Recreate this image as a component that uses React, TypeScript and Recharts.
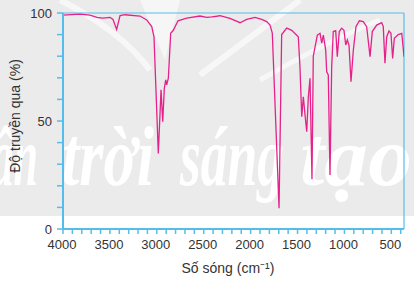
import React from "react";
import { LineChart, Line, XAxis, YAxis, ReferenceLine } from "recharts";

// wavenumber (cm-1) left to right
const wavenumber = [
  4000, 3819, 3712, 3638, 3574, 3499, 3467, 3428, 3392, 3339, 3179, 3108, 3054, 3030,
  2984, 2955, 2937, 2920, 2905, 2895, 2877, 2852, 2824, 2774, 2681, 2540, 2468, 2412,
  2362, 2326, 2220, 2113, 2042, 1953, 1882, 1829, 1793, 1769, 1697, 1669, 1615, 1562,
  1492, 1474, 1455, 1438, 1420, 1402, 1385, 1367, 1346, 1332, 1289, 1260, 1242, 1225,
  1200, 1189, 1172, 1154, 1136, 1119, 1093, 1076, 1055, 1029, 1005, 986, 969, 951, 930,
  905, 877, 841, 799, 763, 727, 703, 656, 603, 586, 568, 549, 525, 504, 486, 468, 426,
  389, 365,
];
// transmittance (%)
const transmittance = [
  99, 99.5, 99, 98, 97.6, 98, 97, 92.4, 98.8, 99.2, 98.6, 96.8, 93.7, 89,
  35, 64.4, 49.7, 65, 69, 66.7, 69.8, 90.6, 92, 96.4, 97.6, 98.6, 98, 98.2,
  98.5, 98.8, 97.5, 95.5, 97, 98, 97, 96, 94.4, 90.7, 9.6, 90, 93, 92,
  89, 75, 52, 61.2, 52.8, 45, 61, 69.8, 23, 80, 89.8, 90.6, 86, 89.8,
  82.9, 72.8, 71.3, 25, 75, 91.4, 91.8, 79.8, 91.4, 93, 92, 85.2, 87.5, 85, 68.2,
  82.9, 93.7, 96.4, 96, 93.7, 79.8, 91.4, 94.4, 95.5, 93.7, 76.7, 89, 91.7, 90.6, 79, 88.3, 90,
  90.6, 79.8,
];

const xTicks = [
  4000, 3900, 3800, 3700, 3600, 3500, 3400, 3300, 3200, 3100, 3000, 2900, 2800, 2700,
  2600, 2500, 2400, 2300, 2200, 2100, 2000, 1900, 1800, 1700, 1600, 1500, 1400, 1300,
  1200, 1100, 1000, 900, 800, 700, 600, 500, 400,
];
const xLabels = [4000, 3500, 3000, 2500, 2000, 1500, 1000, 500];
const yTicks = [0, 10, 20, 30, 40, 50, 60, 70, 80, 90, 100];
const yLabels = [0, 50, 100];

// watermark words behind the plot
const watermark = ["Chân", "trời", "sáng", "tạo"];

const data = wavenumber.map((w, i) => ({ w, t: transmittance[i] }));

const BLUE = "#55bde9";
const TEXT = "#333333";
const FONT = "Liberation Sans, Arial, sans-serif";

function XTick({ x, y, payload }: any) {
  const v = payload.value;
  return (
    <g>
      <line x1={x} x2={x} y1={y} y2={y + 5} stroke={BLUE} strokeWidth={1.5} />
      {xLabels.includes(v) && (
        <text x={x - 1} y={y + 20} textAnchor="middle" fontSize={13} fill={TEXT} fontFamily={FONT}>
          {v}
        </text>
      )}
    </g>
  );
}

function YTick({ x, y, payload }: any) {
  const v = payload.value;
  return (
    <g>
      <line x1={x - 6} x2={x} y1={y} y2={y} stroke={BLUE} strokeWidth={1.5} />
      {yLabels.includes(v) && (
        <text x={x - 11} y={y + 5} textAnchor="end" fontSize={13} fill={TEXT} fontFamily={FONT}>
          {v}
        </text>
      )}
    </g>
  );
}

export default function App() {
  const wordX = [-62, 62, 180, 300];
  const wordW = [100, 92, 104, 112];
  return (
    <div style={{ position: "absolute", left: 0, top: 0, width: 414, height: 282, background: "#fff" }}>
      <svg width={414} height={282} style={{ position: "absolute", left: 0, top: 0 }}>
        <rect x={0} y={0} width={414} height={216} fill="#ebebeb" />
        <path d="M140 0 L165 60 L180 0 Z" fill="#f6f6f6" />
        <path d="M60 0 Q120 30 150 70" stroke="#f7f7f7" strokeWidth={6} fill="none" />
        <path d="M300 0 Q260 30 200 75" stroke="#f7f7f7" strokeWidth={6} fill="none" />
        <path d="M380 20 Q330 40 260 80" stroke="#f7f7f7" strokeWidth={5} fill="none" />
        {watermark.map((w, i) => (
          <text
            key={w}
            x={wordX[i]}
            y={185}
            fontSize={84}
            fontStyle="italic"
            fontWeight="bold"
            fill="#ffffff"
            fontFamily="Liberation Serif, serif"
            textLength={wordW[i]}
            lengthAdjust="spacingAndGlyphs"
          >
            {w}
          </text>
        ))}
      </svg>
      <div style={{ position: "absolute", left: 0, top: 0 }}>
        <LineChart width={414} height={282} data={data} margin={{ top: 13, right: 10, bottom: 23, left: 10 }}>
          <XAxis
            type="number"
            dataKey="w"
            domain={[365, 4000]}
            reversed
            allowDataOverflow
            ticks={xTicks}
            interval={0}
            tick={<XTick />}
            tickLine={false}
            tickSize={0}
            tickMargin={0}
            height={30}
            axisLine={{ stroke: BLUE, strokeWidth: 2 }}
          />
          <YAxis
            type="number"
            domain={[0, 100]}
            ticks={yTicks}
            interval={0}
            tick={<YTick />}
            tickLine={false}
            tickSize={0}
            tickMargin={0}
            width={53}
            axisLine={{ stroke: BLUE, strokeWidth: 2 }}
          />
          <ReferenceLine y={100} stroke={BLUE} strokeWidth={1.2} />
          <ReferenceLine x={365} stroke={BLUE} strokeWidth={1.2} />
          <Line
            type="linear"
            dataKey="t"
            stroke="#e5218a"
            strokeWidth={1.3}
            dot={false}
            isAnimationActive={false}
          />
        </LineChart>
      </div>
      <svg width={414} height={282} style={{ position: "absolute", left: 0, top: 0, pointerEvents: "none" }}>
        <text x={228} y={273} textAnchor="middle" fontSize={14} fill={TEXT} fontFamily={FONT}>
          Số sóng (cm⁻¹)
        </text>
        <text
          transform="translate(20,116) rotate(-90)"
          textAnchor="middle"
          fontSize={14}
          fill={TEXT}
          fontFamily={FONT}
        >
          Độ truyền qua (%)
        </text>
      </svg>
    </div>
  );
}
